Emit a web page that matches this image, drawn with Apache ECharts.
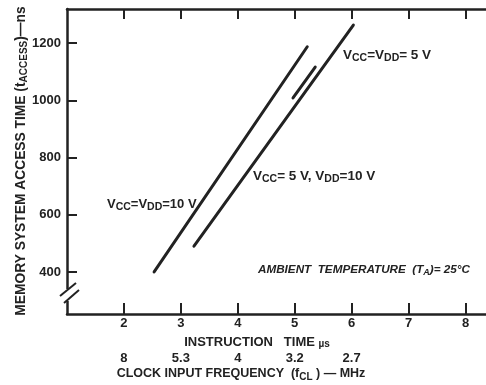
<!DOCTYPE html>
<html>
<head>
<meta charset="utf-8">
<script src="https://cdn.jsdelivr.net/npm/echarts@6/dist/echarts.min.js"></script>
<style>
html,body{margin:0;padding:0;background:#fff;}
#chart{width:486px;height:385px;}
</style>
</head>
<body>
<div id="chart"></div>
<script>
// ---- data ----
const instructionTicks = [2, 3, 4, 5, 6, 7, 8];           // µs
const accessTicks = [400, 600, 800, 1000, 1200];          // ns
const freqTicks = [2, 3, 4, 5, 6];                        // positions on instruction axis
const freqLabels = ['8', '5.3', '4', '3.2', '2.7'];       // MHz
const lineVccVdd10 = [[2.53, 400], [5.22, 1187]];
const lineVcc5Vdd10 = [[3.23, 490], [6.03, 1263]];
const lineVccVdd5 = [[4.97, 1008], [5.36, 1116]];

const ink = '#222';
const FONT = 'Liberation Sans';

const chart = echarts.init(document.getElementById('chart'), null, {renderer: 'canvas'});

const lineSeries = (name, data) => ({
  name, type: 'line', data, xAxisIndex: 0, yAxisIndex: 0,
  symbol: 'none', silent: true,
  lineStyle: {color: ink, width: 3, cap: 'round'}
});

function rich(size, subSize, subPad, style) {
  const base = {fontSize: size, fontFamily: FONT, fontWeight: 'bold', fontStyle: style || 'normal', fill: ink};
  return {n: base, s: Object.assign({}, base, {fontSize: subSize, padding: [subPad, 0, 0, 0]})};
}

function label(x, y, text, size) {
  return {
    type: 'text', x, y,
    style: {text, verticalAlign: 'middle', rich: rich(size || 13.5, 10.5, 7)}
  };
}

chart.setOption({
  animation: false,
  backgroundColor: '#fff',
  grid: {left: 67, top: 9, right: 0, bottom: 71, containLabel: false},
  xAxis: [
    {
      type: 'value', min: 1, max: 8.36, position: 'bottom',
      axisLine: {lineStyle: {color: ink, width: 2.5}},
      axisTick: {inside: true, length: 11, customValues: instructionTicks, lineStyle: {color: ink, width: 2}},
      axisLabel: {customValues: instructionTicks, color: ink, fontSize: 13, fontFamily: FONT, fontWeight: 'bold', margin: 3},
      splitLine: {show: false}
    },
    {
      type: 'value', min: 1, max: 8.36, position: 'top',
      axisLine: {lineStyle: {color: ink, width: 2.5}},
      axisTick: {inside: true, length: 10, customValues: instructionTicks, lineStyle: {color: ink, width: 2}},
      axisLabel: {show: false},
      splitLine: {show: false}
    },
    {
      type: 'value', min: 1, max: 8.36, position: 'bottom', offset: 38,
      axisLine: {show: false},
      axisTick: {show: false},
      axisLabel: {
        customValues: freqTicks, color: ink, fontSize: 13, fontFamily: FONT, fontWeight: 'bold', margin: 0,
        formatter: v => freqLabels[freqTicks.indexOf(v)] || ''
      },
      splitLine: {show: false}
    }
  ],
  yAxis: [{
    type: 'value', min: 253, max: 1319,
    axisLine: {show: true, lineStyle: {color: ink, width: 2.5}},
    axisTick: {inside: true, length: 10, customValues: accessTicks, lineStyle: {color: ink, width: 2}},
    axisLabel: {customValues: accessTicks, color: ink, fontSize: 13, fontFamily: FONT, fontWeight: 'bold', margin: 6, formatter: v => String(v)},
    splitLine: {show: false}
  }],
  series: [
    lineSeries('VCC=VDD=10V', lineVccVdd10),
    lineSeries('VCC=5V, VDD=10V', lineVcc5Vdd10),
    lineSeries('VCC=VDD=5V', lineVccVdd5)
  ],
  graphic: [
    // axis break
    {type: 'rect', shape: {x: 63, y: 289, width: 8, height: 12}, style: {fill: '#fff'}, z: 100},
    {type: 'line', shape: {x1: 60, y1: 296, x2: 76, y2: 283}, style: {stroke: ink, lineWidth: 2}, z: 101},
    {type: 'line', shape: {x1: 64, y1: 303, x2: 79, y2: 290}, style: {stroke: ink, lineWidth: 2}, z: 101},
    // y axis title
    {
      type: 'text', x: 21, y: 161, rotation: Math.PI / 2,
      style: {
        text: '{n|MEMORY SYSTEM ACCESS TIME (t}{s|ACCESS}{n|)—ns}',
        rich: rich(13.8, 10, 6),
        align: 'center', verticalAlign: 'middle'
      }
    },
    // x axis titles
    {
      type: 'text', x: 257, y: 342,
      style: {
        text: '{n|INSTRUCTION   TIME }{s|µs}',
        rich: rich(13, 10, 4),
        align: 'center', verticalAlign: 'middle'
      }
    },
    {
      type: 'text', x: 241, y: 374,
      style: {
        text: '{n|CLOCK INPUT FREQUENCY  (f}{s|CL}{n| ) — MHz}',
        rich: rich(12.5, 10, 6),
        align: 'center', verticalAlign: 'middle'
      }
    },
    // curve labels
    label(107, 204, '{n|V}{s|CC}{n|=V}{s|DD}{n|=10 V}', 13),
    label(253, 176, '{n|V}{s|CC}{n|= 5 V, V}{s|DD}{n|=10 V}'),
    label(343, 55, '{n|V}{s|CC}{n|=V}{s|DD}{n|= 5 V}'),
    {
      type: 'text', x: 258, y: 270,
      style: {
        text: '{n|AMBIENT  TEMPERATURE  (T}{s|A}{n|)= 25°C}',
        rich: rich(11.7, 9, 6, 'italic'),
        verticalAlign: 'middle'
      }
    }
  ]
});
</script>
</body>
</html>
